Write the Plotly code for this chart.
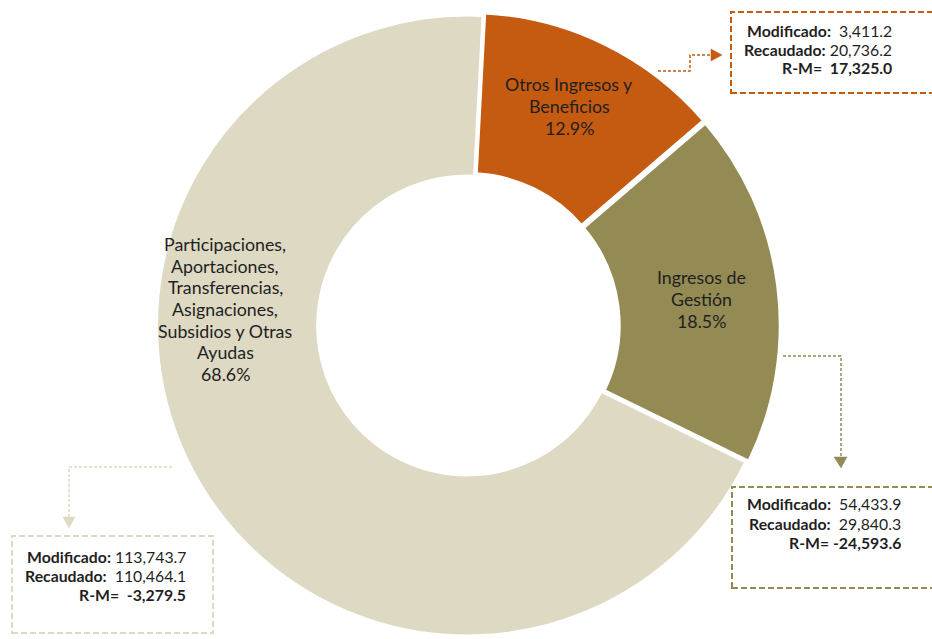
import plotly.graph_objects as go

# ---- data ----
categories = ["Otros Ingresos y Beneficios", "Ingresos de Gestión",
              "Participaciones, Aportaciones, Transferencias, Asignaciones, Subsidios y Otras Ayudas"]
recaudado = [20736.2, 29840.3, 110464.1]
modificado = [3411.2, 54433.9, 113743.7]
r_menos_m = [17325.0, -24593.6, -3279.5]
colors = ["#C55A11", "#948A54", "#DDD9C3"]
label_lines = [["Otros Ingresos y", "Beneficios"],
               ["Ingresos de", "Gestión"],
               ["Participaciones,", "Aportaciones,", "Transferencias,", "Asignaciones,",
                "Subsidios y Otras", "Ayudas"]]

W, H = 932, 639
total = sum(recaudado)


def px(x):
    return x / W


def py(y):
    return 1 - y / H


fig = go.Figure()
fig.add_trace(go.Pie(
    labels=categories,
    values=recaudado,
    sort=False,
    direction="clockwise",
    rotation=3,
    hole=0.48,
    pull=[0.009, 0.009, 0],
    marker=dict(colors=colors, line=dict(color="white", width=3.5)),
    textinfo="none",
    hoverinfo="label+value+percent",
    showlegend=False,
    domain=dict(x=[px(467 - 314), px(467 + 314)], y=[0, 627 / H]),
))

FONT = "Lato, 'Open Sans', sans-serif"
TXT = "#1f1f1f"

annotations = []


def add_lines(lines, x, yc, spacing, size, xanchor):
    n = len(lines)
    for k, t in enumerate(lines):
        y = yc + (k - (n - 1) / 2) * spacing
        annotations.append(dict(
            x=px(x), y=py(y), xref="paper", yref="paper", text=t,
            showarrow=False, font=dict(family=FONT, size=size, color=TXT),
            xanchor=xanchor, yanchor="middle"))


# slice labels
label_pos = [(569, 106), (701, 299), (225, 309)]
for lines, val, (lx, ly) in zip(label_lines, recaudado, label_pos):
    pct = f"{val / total * 100:.1f}%"
    add_lines(lines + [pct], lx, ly, 21.7, 17.8, "center")

# info boxes: (x0, y0, x1, y1, text_right, text_center_y)
boxes = [
    (731, 12, 940, 93, 894, 49),
    (732, 487, 940, 588, 903, 523),
    (12, 536, 213, 633, 188, 575),
]
gaps = [(2, 1, 2), (2, 2, 1), (1, 2, 2)]
NB = "\u00a0"
shapes = []
for i, (x0, y0, x1, y1, tr, tc) in enumerate(boxes):
    shapes.append(dict(type="rect", xref="paper", yref="paper",
                       x0=px(x0), y0=py(y1), x1=px(x1), y1=py(y0),
                       line=dict(color=colors[i], width=2, dash="6px,3px"),
                       fillcolor="rgba(0,0,0,0)"))
    g = gaps[i]
    lines = [f"<b>Modificado:</b>{NB * g[0]}{modificado[i]:,.1f}",
             f"<b>Recaudado:</b>{NB * g[1]}{recaudado[i]:,.1f}",
             f"<b>R-M={NB * g[2]}{r_menos_m[i]:,.1f}</b>"]
    add_lines(lines, tr, tc, 19, 15.8, "right")

# leader lines (elbow connectors) and arrowheads
leaders = [
    [(658, 71), (690, 71), (690, 55), (712, 55)],
    [(783, 356), (841, 356), (841, 457)],
    [(172, 467), (69, 467), (69, 517)],
]
heads = [
    [(711, 49), (722, 55), (711, 61)],
    [(834, 457), (841, 468), (847, 457)],
    [(63, 517), (69, 528), (75, 517)],
]


def path(pts, close=False):
    s = "M " + " L ".join(f"{px(x):.5f},{py(y):.5f}" for x, y in pts)
    return s + (" Z" if close else "")


for i in range(3):
    shapes.append(dict(type="path", xref="paper", yref="paper", path=path(leaders[i]),
                       line=dict(color=colors[i], width=1.5, dash="3px,2px")))
    shapes.append(dict(type="path", xref="paper", yref="paper", path=path(heads[i], True),
                       line=dict(color=colors[i], width=0.5), fillcolor=colors[i]))

fig.update_layout(
    width=W, height=H,
    margin=dict(l=0, r=0, t=0, b=0),
    paper_bgcolor="white", plot_bgcolor="white",
    shapes=shapes, annotations=annotations,
    font=dict(family=FONT),
)

fig.write_html("out.html", config={"displayModeBar": False},
               post_script="document.body.style.margin='0';document.body.style.padding='0';")
